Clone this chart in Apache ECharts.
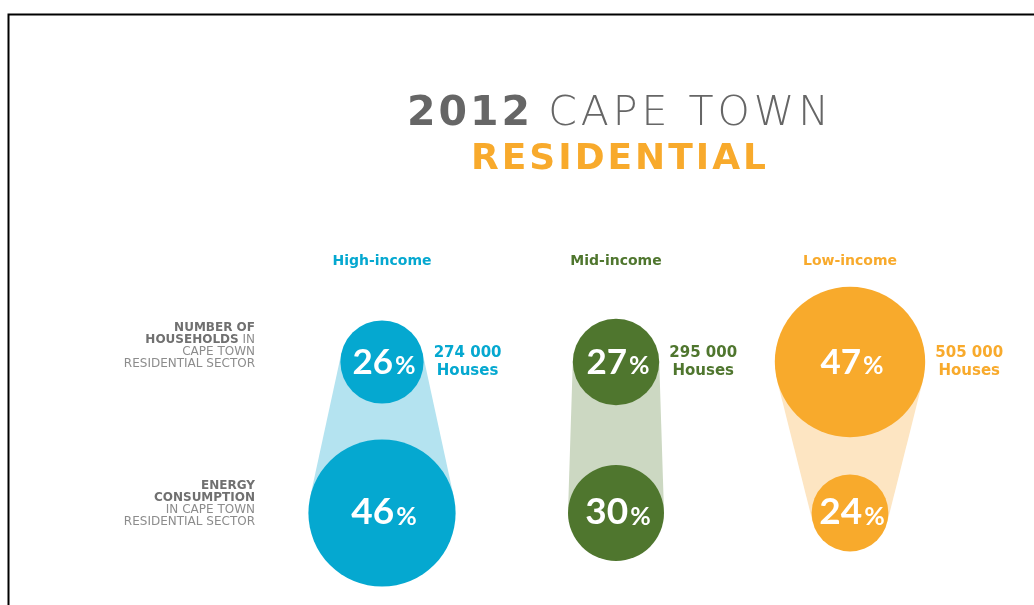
<!DOCTYPE html>
<html>
<head>
<meta charset="utf-8">
<script src="https://cdn.jsdelivr.net/npm/echarts@6/dist/echarts.min.js"></script>
<style>
  html, body { margin: 0; padding: 0; background: #ffffff; }
  #chart { width: 1034px; height: 605px; }
</style>
</head>
<body>
<div id="chart"></div>
<script>
// Income groups and their shares of the residential sector (per cent)
const groups = ['High-income', 'Mid-income', 'Low-income'];
const householdShare = [26, 27, 47];
const energyShare = [46, 30, 24];
const houseCounts = ['274 000', '295 000', '505 000'];
const rows = ['households', 'energy'];
const rowLabels = [
  ['NUMBER OF', 'HOUSEHOLDS', 'IN', 'CAPE TOWN', 'RESIDENTIAL SECTOR'],
  ['ENERGY', 'CONSUMPTION', 'IN CAPE TOWN', 'RESIDENTIAL SECTOR']
];
const titleParts = ['2012', 'CAPE TOWN', 'RESIDENTIAL'];

const strong = ['#05A8D0', '#4F762E', '#F8AA2C'];
const pale = ['#B4E3F0', '#CCD8C2', '#FDE5C2'];
const PX_PER_PERCENT = 1.6;   // circle radius grows linearly with the share

const chart = echarts.init(document.getElementById('chart'), null, { renderer: 'canvas' });

const data = groups.map((g, i) => [i, householdShare[i], energyShare[i]]);

const pctRich = {
  n: { fontFamily: 'Lato', fontWeight: 'bold', fontSize: 35, fill: '#ffffff', verticalAlign: 'bottom', lineHeight: 40 },
  nB: { fontFamily: 'Lato', fontWeight: 'bold', fontSize: 37, fill: '#ffffff', verticalAlign: 'bottom', lineHeight: 40 },
  p: { fontFamily: 'Lato', fontWeight: 'bold', fontSize: 25, fill: '#ffffff', verticalAlign: 'bottom', lineHeight: 40, padding: [0, 0, 2, 2] }
};

function pctText(v, big) {
  return '{n' + (big ? 'B' : '') + '|' + v + '}{p|%}';
}

// Spread letters apart by giving every character its own rich token
function tracked(str, style) {
  return str.split('').map(ch => '{' + style + '|' + ch + '}').join('');
}

function renderGroup(params, api) {
  const i = api.value(0);
  const hh = api.value(1);
  const en = api.value(2);
  const p1 = api.coord([i, 0]);
  const p2 = api.coord([i, 1]);
  const r1 = hh * PX_PER_PERCENT;
  const r2 = en * PX_PER_PERCENT;
  const d = p2[1] - p1[1];
  const ny = -(r2 - r1) / d;
  const nx = Math.sqrt(1 - ny * ny);
  const points = [
    [p1[0] + r1 * nx, p1[1] + r1 * ny],
    [p2[0] + r2 * nx, p2[1] + r2 * ny],
    [p2[0] - r2 * nx, p2[1] + r2 * ny],
    [p1[0] - r1 * nx, p1[1] + r1 * ny]
  ];
  return {
    type: 'group',
    children: [
      { type: 'polygon', shape: { points: points }, style: { fill: pale[i] } },
      { type: 'circle', shape: { cx: p1[0], cy: p1[1], r: r1 }, style: { fill: strong[i] } },
      { type: 'circle', shape: { cx: p2[0], cy: p2[1], r: r2 }, style: { fill: strong[i] } },
      {
        type: 'text', x: p1[0] + 2, y: p1[1] - 2,
        style: { text: pctText(hh, false), rich: pctRich, align: 'center', verticalAlign: 'middle' }
      },
      {
        type: 'text', x: p2[0] + 2, y: p2[1] - 2,
        style: { text: pctText(en, true), rich: pctRich, align: 'center', verticalAlign: 'middle' }
      },
      {
        type: 'text', x: p1[0] + r1 + 44, y: p1[1],
        style: {
          text: houseCounts[i] + '\nHouses',
          fontFamily: 'DejaVu Sans', fontWeight: 'bold', fontSize: 15, lineHeight: 18,
          fill: strong[i], align: 'center', verticalAlign: 'middle'
        }
      }
    ]
  };
}

chart.setOption({
  animation: false,
  backgroundColor: '#ffffff',
  grid: { left: 265, width: 702, top: 286.5, height: 302 },
  xAxis: {
    type: 'category', data: groups, position: 'top',
    axisLine: { show: false }, axisTick: { show: false }, splitLine: { show: false },
    axisLabel: {
      margin: 25, verticalAlign: 'middle',
      fontFamily: 'DejaVu Sans', fontWeight: 'bold', fontSize: 14,
      color: (v, idx) => strong[idx]
    }
  },
  yAxis: {
    type: 'category', data: rows, inverse: true,
    axisLine: { show: false }, axisTick: { show: false }, splitLine: { show: false },
    axisLabel: { show: false }
  },
  series: [{
    type: 'custom',
    renderItem: renderGroup,
    data: data,
    clip: false
  }]
});

// Title, frame and row captions placed around the plotting grid
const rowY = rows.map(r => chart.convertToPixel({ yAxisIndex: 0 }, r));
const labelRich = {
  b: { fontFamily: 'DejaVu Sans', fontWeight: 'bold', fontSize: 12, lineHeight: 12, fill: '#707070', align: 'right' },
  r: { fontFamily: 'DejaVu Sans', fontSize: 12, lineHeight: 12, fill: '#8c8c8c', align: 'right' }
};
const l1 = rowLabels[0], l2 = rowLabels[1];
const caption1 = '{b|' + l1[0] + '}\n{b|' + l1[1] + '}{r| ' + l1[2] + '}\n{r|' + l1[3] + '}\n{r|' + l1[4] + '}';
const caption2 = '{b|' + l2[0] + '}\n{b|' + l2[1] + '}\n{r|' + l2[2] + '}\n{r|' + l2[3] + '}';

chart.setOption({
  graphic: [
    {
      type: 'polyline', silent: true,
      shape: { points: [[8.5, 605], [8.5, 14.5], [1034, 14.5]] },
      style: { stroke: '#000000', lineWidth: 2, fill: null }
    },
    {
      type: 'text', x: 620, y: 114,
      style: {
        text: tracked(titleParts[0], 'a') + '{sp| }' + tracked(titleParts[1], 'b'),
        rich: {
          a: { fontFamily: 'DejaVu Sans', fontWeight: 'bold', fontSize: 41, fill: '#666666', padding: [0, 3, 0, 0] },
          b: { fontFamily: 'DejaVu Sans', fontWeight: 200, fontSize: 41, fill: '#666666', padding: [0, 4, 0, 0] },
          sp: { fontFamily: 'DejaVu Sans', fontSize: 41, fill: '#666666', padding: [0, 2, 0, 0] }
        },
        align: 'center', verticalAlign: 'middle'
      }
    },
    {
      type: 'text', x: 620, y: 160,
      style: {
        text: tracked(titleParts[2], 'c'),
        rich: {
          c: { fontFamily: 'DejaVu Sans', fontWeight: 'bold', fontSize: 36, fill: '#F8AA2C', padding: [0, 3, 0, 0] }
        },
        align: 'center', verticalAlign: 'middle'
      }
    },
    {
      type: 'text', x: 255, y: rowY[0] - 16,
      style: { text: caption1, rich: labelRich, align: 'right', verticalAlign: 'middle' }
    },
    {
      type: 'text', x: 255, y: rowY[1] - 9,
      style: { text: caption2, rich: labelRich, align: 'right', verticalAlign: 'middle' }
    }
  ]
});
</script>
</body>
</html>
